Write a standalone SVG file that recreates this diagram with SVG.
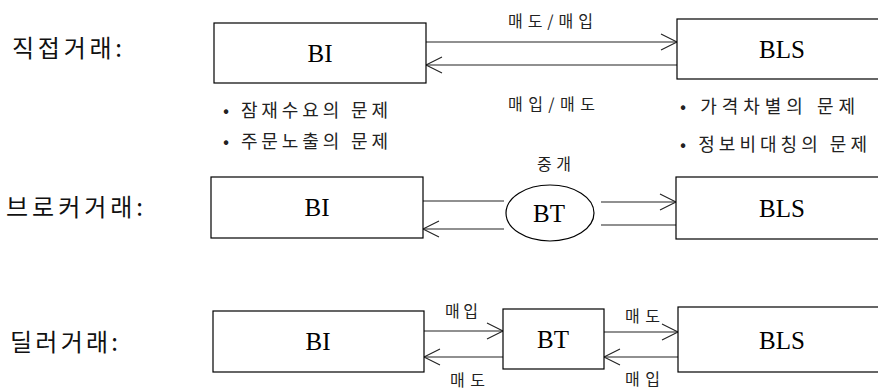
<svg xmlns="http://www.w3.org/2000/svg" width="878" height="392" viewBox="0 0 878 392">
<style>
.box{fill:#fff;stroke:#000;stroke-width:1.2}
.ln{stroke:#222;stroke-width:1.1;fill:none}
.lat{font-family:"Liberation Serif","Noto Sans CJK KR",serif;font-size:25px;fill:#000;text-anchor:middle}
.row{font-family:"Noto Sans CJK KR",sans-serif;font-size:24px;fill:#111}
.lbl{font-family:"Noto Sans CJK KR",sans-serif;font-size:16px;fill:#222}
.bul{font-family:"Noto Sans CJK KR",sans-serif;font-size:18px;fill:#222}
</style>
<defs>
<marker id="ah" markerUnits="userSpaceOnUse" markerWidth="20" markerHeight="20" viewBox="-18 -10 20 20" refX="0" refY="0" orient="auto">
<path d="M-16,-8 L0,0 L-16,8" fill="none" stroke="#222" stroke-width="1.1"/>
</marker>
</defs>
<g id="labels">
<text class="row" x="12" y="57" textLength="110" lengthAdjust="spacing">직접거래:</text>
<text class="row" x="6" y="216" textLength="137" lengthAdjust="spacing">브로커거래:</text>
<text class="row" x="10" y="351" textLength="108" lengthAdjust="spacing">딜러거래:</text>
</g>
<g id="connectors">
<line class="ln" x1="426" y1="42" x2="677" y2="42" marker-end="url(#ah)"/>
<line class="ln" x1="677" y1="65" x2="426" y2="65" marker-end="url(#ah)"/>
<line class="ln" x1="423" y1="201" x2="504" y2="201"/>
<line class="ln" x1="504" y1="229" x2="423" y2="229" marker-end="url(#ah)"/>
<line class="ln" x1="601" y1="202" x2="676" y2="202" marker-end="url(#ah)"/>
<line class="ln" x1="601" y1="225" x2="676" y2="225"/>
<line class="ln" x1="424" y1="331" x2="503" y2="331" marker-end="url(#ah)"/>
<line class="ln" x1="503" y1="357" x2="424" y2="357" marker-end="url(#ah)"/>
<line class="ln" x1="604" y1="332" x2="678" y2="332" marker-end="url(#ah)"/>
<line class="ln" x1="678" y1="357" x2="604" y2="357" marker-end="url(#ah)"/>
<text class="lbl" x="508" y="27" textLength="85" lengthAdjust="spacing">매도/매입</text>
<text class="lbl" x="508" y="110" textLength="87" lengthAdjust="spacing">매입/매도</text>
<text class="lbl" x="537" y="170" textLength="34" lengthAdjust="spacing">중개</text>
<text class="lbl" x="445" y="317" textLength="33" lengthAdjust="spacing">매입</text>
<text class="lbl" x="450" y="386" textLength="35" lengthAdjust="spacing">매도</text>
<text class="lbl" x="625" y="322" textLength="35" lengthAdjust="spacing">매도</text>
<text class="lbl" x="625" y="385" textLength="35" lengthAdjust="spacing">매입</text>
</g>
<g id="bi1">
<rect class="box" x="214" y="23" width="212" height="60"/>
<text class="lat" x="320" y="62">BI</text>
</g>
<g id="bls1">
<rect class="box" x="677" y="19" width="210" height="60"/>
<text class="lat" x="782" y="58">BLS</text>
</g>
<g id="notes-bi">
<text class="bul" x="223" y="117" textLength="165" lengthAdjust="spacing">• 잠재수요의 문제</text>
<text class="bul" x="223" y="148" textLength="165" lengthAdjust="spacing">• 주문노출의 문제</text>
</g>
<g id="notes-bls">
<text class="bul" x="680" y="113" textLength="175" lengthAdjust="spacing">• 가격차별의 문제</text>
<text class="bul" x="680" y="151" textLength="187" lengthAdjust="spacing">• 정보비대칭의 문제</text>
</g>
<g id="bi2">
<rect class="box" x="211" y="177" width="212" height="61"/>
<text class="lat" x="317" y="216">BI</text>
</g>
<g id="bt2">
<ellipse class="box" cx="550" cy="213" rx="44" ry="28"/>
<text class="lat" x="549" y="222">BT</text>
</g>
<g id="bls2">
<rect class="box" x="676" y="177" width="210" height="62"/>
<text class="lat" x="782" y="217">BLS</text>
</g>
<g id="bi3">
<rect class="box" x="213" y="311" width="211" height="61"/>
<text class="lat" x="318" y="350">BI</text>
</g>
<g id="bt3">
<rect class="box" x="503" y="309" width="101" height="60"/>
<text class="lat" x="553" y="348">BT</text>
</g>
<g id="bls3">
<rect class="box" x="678" y="307" width="210" height="65"/>
<text class="lat" x="782" y="349">BLS</text>
</g>
</svg>
